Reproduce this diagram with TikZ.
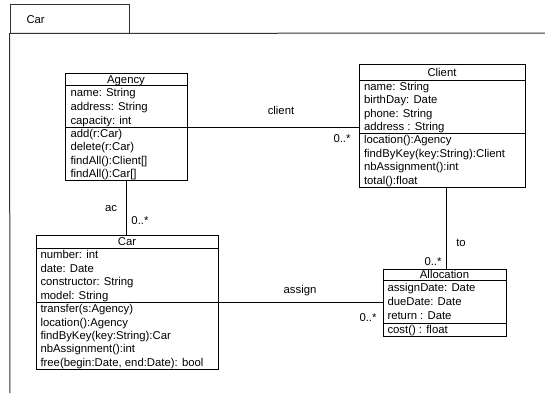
\documentclass[tikz,border=0pt]{standalone}
\usepackage{fontspec}
\setmainfont{Liberation Sans}
\usetikzlibrary{fit}
\begin{document}
\begin{tikzpicture}[x=0.75pt,y=-0.75pt,line width=0.75pt,
  umlbox/.style={draw,inner sep=0pt},
  txt/.style={inner sep=0pt,font=\fontsize{8.5pt}{10pt}\selectfont},
  row/.style={txt,anchor=base west},
  ttl/.style={txt,anchor=base},
  lbl/.style={txt,anchor=base},
  pkgline/.style={draw=black!80}]
\useasboundingbox (0,0) rectangle (545,396);
% package frame
\node[umlbox,pkgline,fit={(10,4) (129,33)}] (tab) {};
\node[txt,anchor=west] (tabname) at (26,19.5) {Car};
\coordinate (fend) at (545,33);
\coordinate (fbot) at (10,393);
\draw[pkgline] (fbot) -- (tab.south west) -- (fend);

% Agency
\node[umlbox,fit={(65,73) (187,180)}] (agency) {};
\coordinate (agency-s1) at (65,85);
\coordinate (agency-s2) at (65,127);
\draw (agency-s1) -- (agency-s1 -| agency.east);
\draw (agency-s2) -- (agency-s2 -| agency.east);
\node[ttl] (agency-t) at (126,83) {Agency};
\foreach \t [count=\i] in {{name: String},{address: String},{capacity: int}}
  \node[row] (agency-a\i) at (70,{85+(\i-0.5)*14+4}) {\t};
\foreach \t [count=\i] in {{add(r:Car)},{delete(r:Car)},{findAll():Client[]},{findAll():Car[]}}
  \node[row] (agency-o\i) at (70,{127+(\i-0.5)*13.25+4}) {\t};

% Client
\node[umlbox,fit={(359,64) (525,187)}] (client) {};
\coordinate (client-s1) at (359,80);
\coordinate (client-s2) at (359,133);
\draw (client-s1) -- (client-s1 -| client.east);
\draw (client-s2) -- (client-s2 -| client.east);
\node[ttl] (client-t) at (442,76) {Client};
\foreach \t [count=\i] in {{name: String},{birthDay: Date},{phone: String},{address : String}}
  \node[row] (client-a\i) at (363.5,{80+(\i-0.5)*13.25+4}) {\t};
\foreach \t [count=\i] in {{location():Agency},{findByKey(key:String):Client},{nbAssignment():int},{total():float}}
  \node[row] (client-o\i) at (363.5,{133+(\i-0.5)*13.5+4}) {\t};

% Car
\node[umlbox,fit={(36,235) (218,369)}] (car) {};
\coordinate (car-s1) at (36,248);
\coordinate (car-s2) at (36,302);
\draw (car-s1) -- (car-s1 -| car.east);
\draw (car-s2) -- (car-s2 -| car.east);
\node[ttl] (car-t) at (127,245.5) {Car};
\foreach \t [count=\i] in {{number: int},{date: Date},{constructor: String},{model: String}}
  \node[row] (car-a\i) at (40,{248+(\i-0.5)*13.5+4}) {\t};
\foreach \t [count=\i] in {{transfer(s:Agency)},{location():Agency},{findByKey(key:String):Car},{nbAssignment():int},{free(begin:Date, end:Date): bool}}
  \node[row] (car-o\i) at (40,{302+(\i-0.5)*13.4+4}) {\t};

% Allocation
\node[umlbox,fit={(383,269) (506,336)}] (alloc) {};
\coordinate (alloc-s1) at (383,280);
\coordinate (alloc-s2) at (383,323);
\draw (alloc-s1) -- (alloc-s1 -| alloc.east);
\draw (alloc-s2) -- (alloc-s2 -| alloc.east);
\node[ttl] (alloc-t) at (444.5,278.5) {Allocation};
\foreach \t [count=\i] in {{assignDate: Date},{dueDate: Date},{return : Date}}
  \node[row] (alloc-a\i) at (387,{280+(\i-0.5)*14.33+4}) {\t};
\foreach \t [count=\i] in {{cost() : float}}
  \node[row] (alloc-o\i) at (387,{323+(\i-0.5)*13+4}) {\t};

% associations
\draw (agency.east |- agency-s2) -- (client.west |- agency-s2);
\draw (agency.south) -- (agency.south |- car.north);
\coordinate (tox) at (446,0);
\draw (client.south -| tox) -- (alloc.north -| tox);
\draw (car.east |- car-s2) -- (alloc.west |- car-s2);

% labels
\node[lbl] (l-client) at (281,114) {client};
\node[lbl] (m-client) at (342,142) {0..*};
\node[lbl] (l-ac) at (111,211) {ac};
\node[lbl] (m-ac) at (140,224) {0..*};
\node[lbl] (l-to) at (461,246.5) {to};
\node[lbl] (m-to) at (433,265) {0..*};
\node[lbl] (l-assign) at (300,293) {assign};
\node[lbl] (m-assign) at (368,321) {0..*};
\end{tikzpicture}
\end{document}
